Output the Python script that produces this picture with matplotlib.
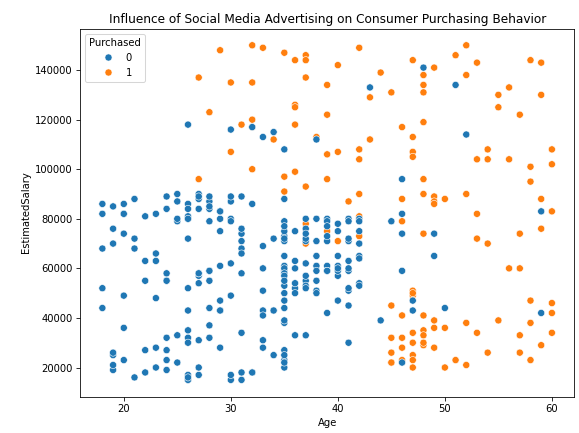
import matplotlib
matplotlib.use("Agg")
import matplotlib.pyplot as plt
import pandas as pd
import seaborn as sns

# customers who bought (Purchased = 1); salary in thousands
age_yes = [32, 47, 45, 46, 48, 45, 47, 48, 45, 46, 47, 49, 47, 27, 30, 32, 34, 31, 28, 33,
           30, 27, 32, 32, 29, 32, 39, 58,
           35, 36, 37, 37, 37, 36, 36, 39, 36, 38, 42, 40, 47, 49, 44, 43, 45, 48, 48, 48,
           46, 48, 47, 43, 42, 40, 47, 39, 52, 51, 53, 58, 59, 52, 56, 55, 59, 55, 57, 54,
           60, 36, 35, 37, 39, 35, 42, 47, 48, 42, 41, 46, 48, 49, 49, 49, 50, 46, 48, 53,
           54, 56, 60, 58, 52, 59, 60, 53, 59, 57, 53, 54, 56, 57, 37, 37, 39, 40, 42, 42,
           47, 47, 45, 46, 49, 49, 50, 47, 48, 48, 48, 45, 46, 47, 50, 58, 60, 60, 52, 55,
           58, 53, 57, 60, 59, 54, 57, 51, 52, 58]
salary_yes = [150, 25, 26, 28, 29, 22, 49, 41, 22, 23, 20, 28, 30, 137, 135, 120, 112, 118, 123, 149,
              107, 96, 135, 100, 148, 117, 134, 101,
              147, 144, 146, 144, 137, 126, 125, 122, 118, 113, 149, 142, 144, 141, 139, 129, 131, 138, 134, 131,
              117, 119, 113, 112, 108, 107, 107, 106, 150, 146, 143, 144, 143, 138, 133, 130, 130, 125, 122, 108,
              108, 99, 97, 93, 96, 91, 104, 105, 96, 90, 87, 88, 90, 89, 87, 86, 88, 79, 74, 104,
              104, 104, 102, 95, 90, 88, 83, 82, 76, 74, 72, 70, 60, 60, 78, 70, 75, 71, 81, 73,
              51, 50, 45, 41, 39, 36, 36, 34, 35, 33, 30, 32, 32, 23, 20, 47, 46, 42, 38, 39,
              38, 34, 33, 34, 29, 26, 26, 23, 21, 23]

# customers who did not buy (Purchased = 0); salary in thousands
age_no = [19, 35, 26, 27, 19, 27, 27, 25, 35, 26, 26, 20, 32, 18, 29, 29, 31, 31, 21, 28,
          27, 35, 33, 30, 26, 27, 27, 33, 35, 30, 28, 23, 25, 27, 31, 24, 18, 29, 35, 27,
          24, 23, 28, 22, 32, 27, 25, 23, 59, 24, 24, 23, 22, 31, 25, 24, 20, 33, 32, 18,
          22, 28, 26, 30, 39, 20, 35, 30, 24, 28, 26, 35, 22, 30, 26, 29, 29, 35, 35, 35,
          28, 27, 28, 32, 19, 21, 26, 27, 26, 38, 39, 37, 38, 37, 42, 40, 35, 36, 40, 41,
          36, 37, 40, 35, 41, 39, 42, 26, 30, 26, 31, 33, 30, 21, 28, 23, 20, 28, 19, 19,
          18, 35, 30, 34, 24, 41, 29, 20, 26, 41, 31, 36, 40, 31, 46, 29, 26, 25, 37, 35,
          33, 18, 22, 35, 29, 21, 34, 26, 34, 34, 23, 35, 25, 24, 31, 26, 31, 33, 33, 31,
          20, 33, 35, 28, 24, 19, 29, 19, 28, 34, 30, 20, 26, 35, 35, 49, 41, 47,
          38, 48, 43, 51, 52, 46, 46, 45, 46, 44, 47, 50, 46, 59, 42, 42, 49, 36, 39,
          40, 40, 40, 40, 41, 41, 41, 41, 41, 41, 42, 42, 42, 42, 39, 39, 39, 39, 39,
          38, 38, 38, 38, 38, 38, 37, 37, 37, 37, 37, 37, 37, 36, 36, 36,
          35, 35, 35, 35, 35, 35, 35]
salary_no = [19, 20, 43, 57, 76, 58, 84, 33, 65, 80, 52, 86, 18, 82, 80, 43, 18, 74, 16, 44,
             90, 27, 28, 49, 72, 31, 17, 51, 108, 15, 84, 20, 79, 54, 89, 32, 44, 83, 23, 58,
             55, 48, 79, 18, 117, 20, 87, 66, 83, 58, 19, 82, 63, 68, 80, 27, 23, 113, 18, 52,
             27, 87, 17, 80, 42, 49, 88, 62, 55, 85, 81, 50, 81, 116, 15, 28, 83, 44, 25, 73,
             37, 88, 59, 86, 21, 72, 35, 89, 86, 80, 71, 71, 61, 55, 80, 57, 75, 52, 59, 59,
             75, 72, 75, 53, 51, 61, 65, 32, 17, 84, 58, 31, 87, 68, 55, 63, 82, 59, 25, 85,
             68, 59, 89, 25, 89, 30, 61, 74, 15, 45, 76, 50, 47, 15, 59, 75, 30, 90, 33, 38,
             69, 86, 55, 71, 47, 88, 115, 118, 43, 72, 28, 47, 22, 23, 34, 16, 71, 43, 60, 66,
             82, 41, 72, 32, 84, 26, 43, 70, 89, 43, 79, 36, 80, 22, 39, 74, 71, 47,
             112, 141, 133, 134, 114, 96, 82, 79, 74, 39, 43, 44, 22, 42, 54, 53, 65, 33, 59,
             78, 65, 61, 60, 80, 79, 72, 63, 60, 52, 79, 75, 70, 64, 80, 79, 77, 73, 59,
             71, 65, 59, 55, 51, 50, 80, 76, 74, 62, 57, 53, 52, 63, 60, 54,
             79, 77, 61, 60, 58, 57, 55]

df = pd.DataFrame({
    "Age": age_yes + age_no,
    "EstimatedSalary": [s * 1000 for s in salary_yes + salary_no],
    "Purchased": [1] * len(age_yes) + [0] * len(age_no),
})

fig = plt.figure(figsize=(8, 5.983), dpi=72.375)
ax = fig.add_axes([0.138, 0.084, 0.854, 0.850])
sns.scatterplot(data=df, x="Age", y="EstimatedSalary", hue="Purchased",
                hue_order=[0, 1], palette={0: "#1f77b4", 1: "#ff7f0e"}, s=50, ax=ax)
ax.legend(title="Purchased", loc="upper left")
ax.set_title("Influence of Social Media Advertising on Consumer Purchasing Behavior")

fig.savefig("out.png", dpi=72.375)
